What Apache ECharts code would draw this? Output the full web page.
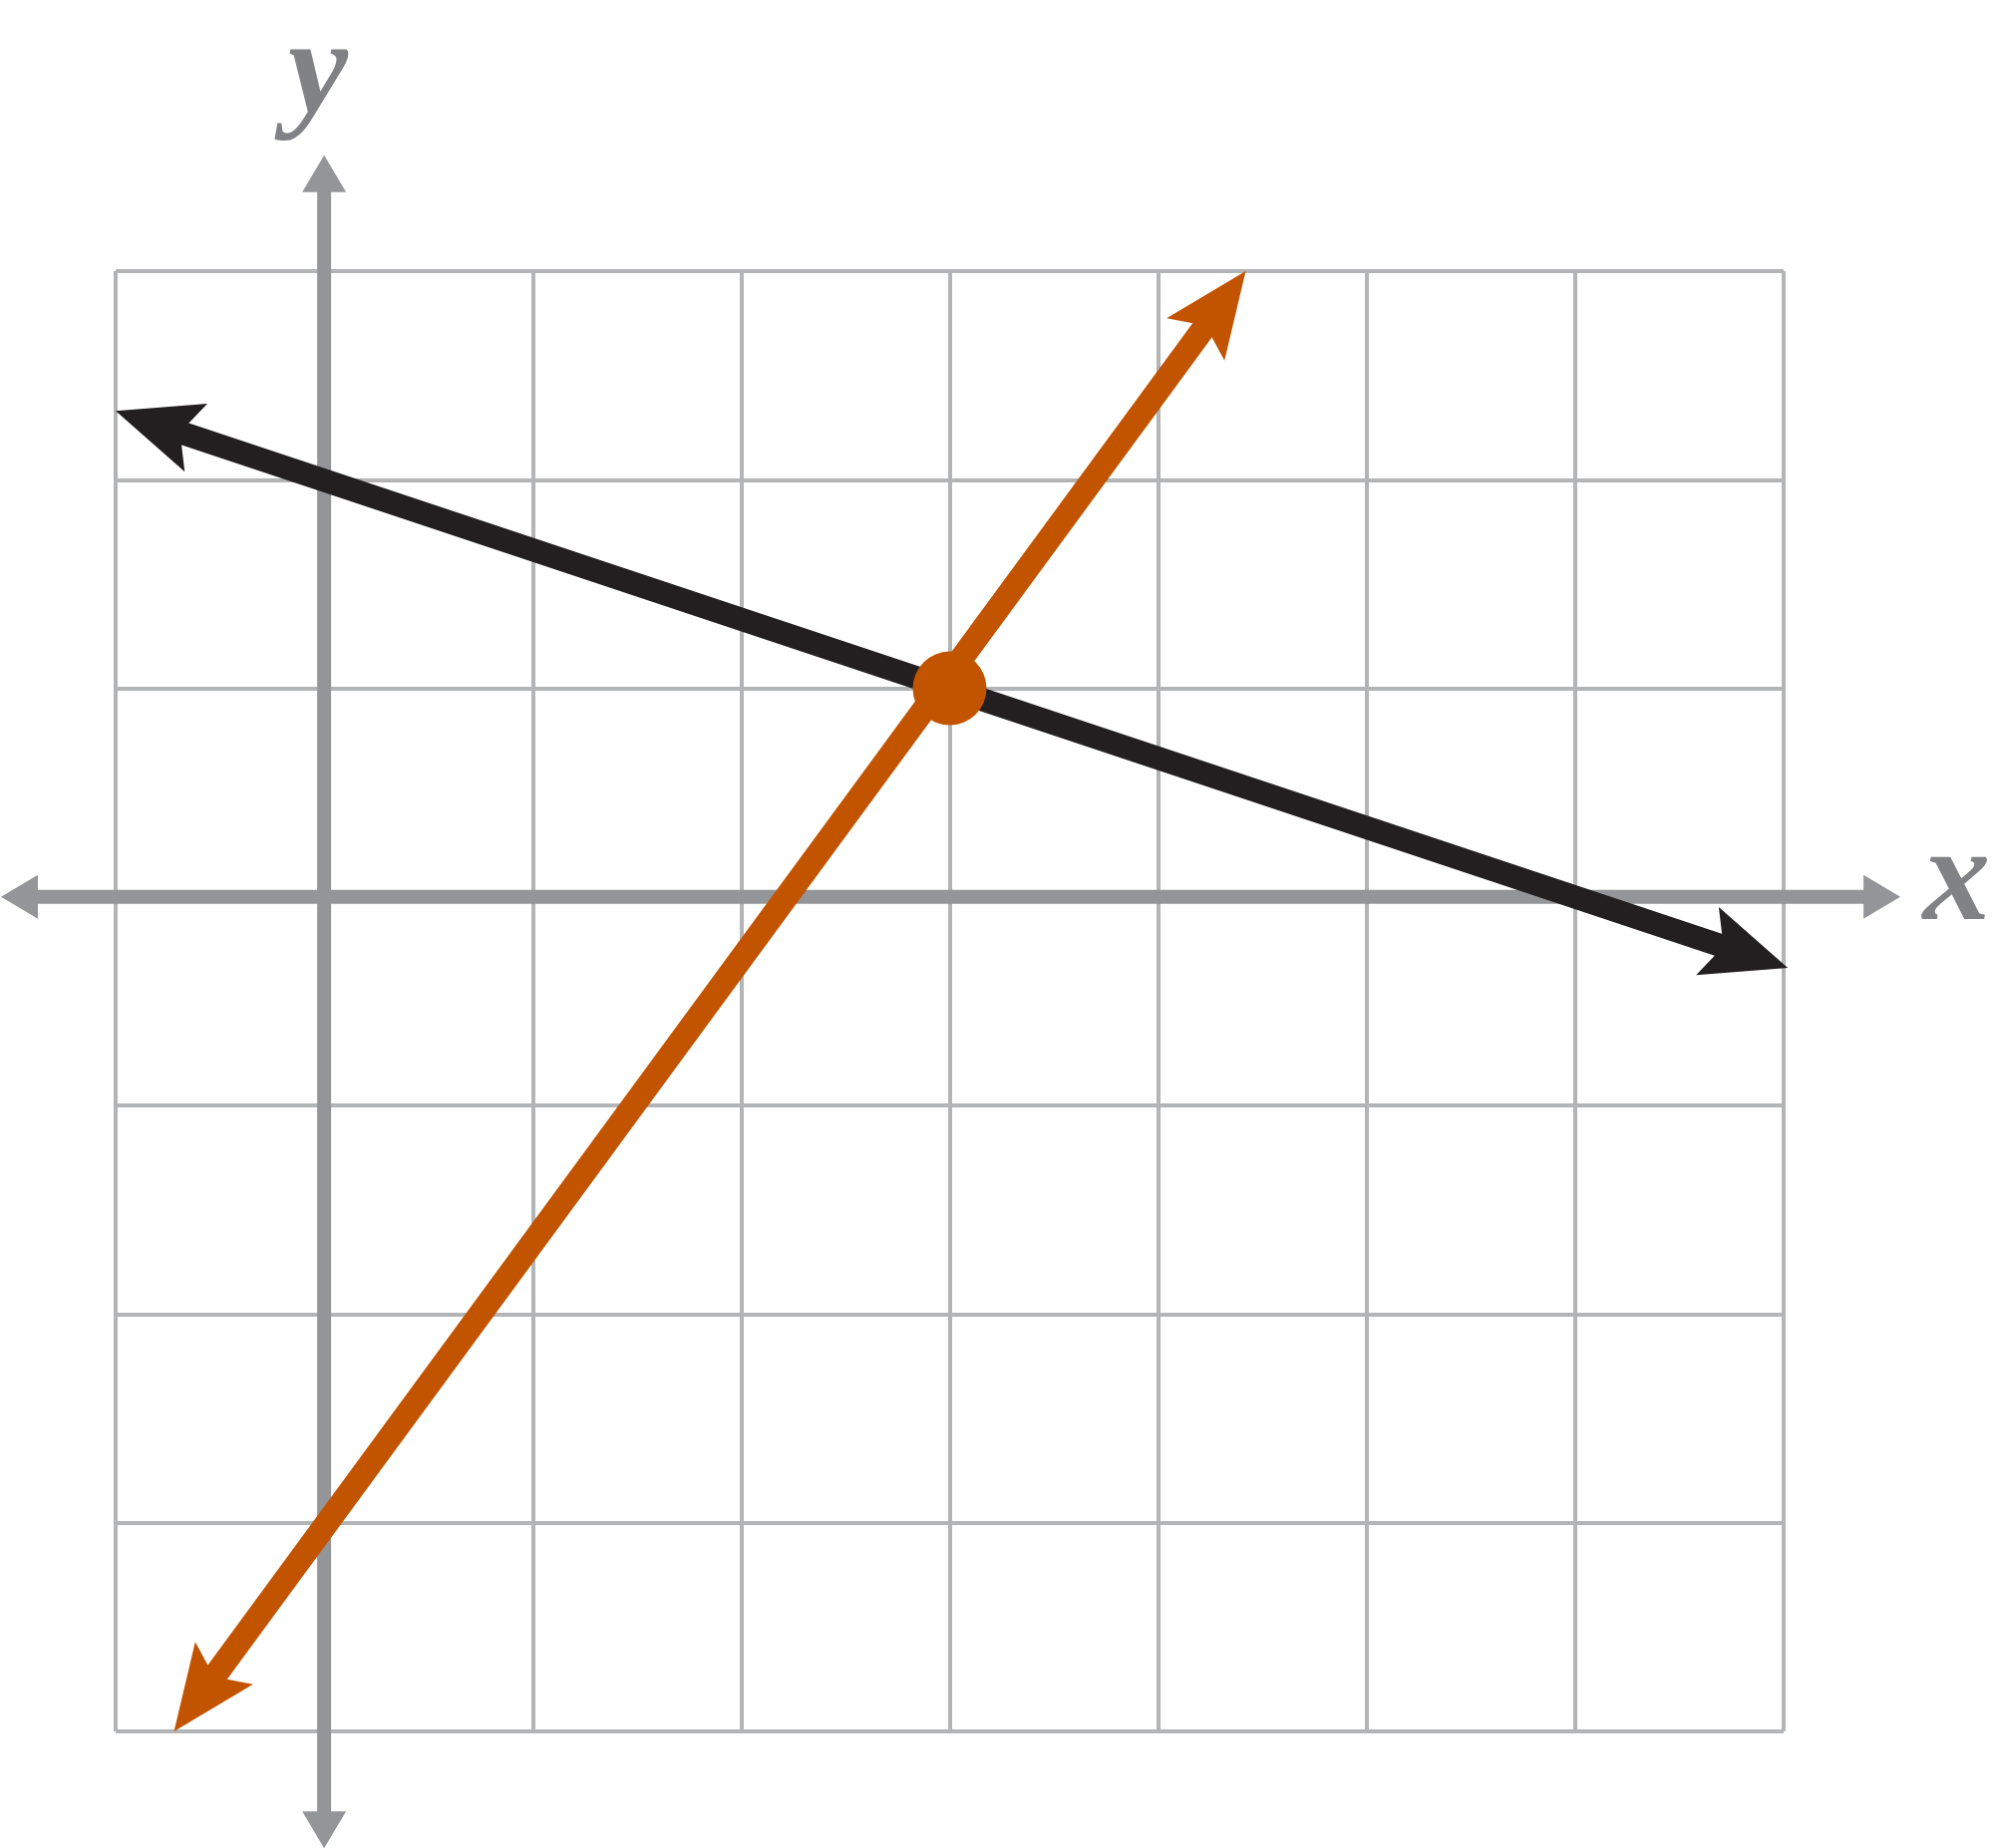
<!DOCTYPE html>
<html><head><meta charset="utf-8">
<script src="https://cdn.jsdelivr.net/npm/echarts@6/dist/echarts.min.js"></script>
<style>html,body{margin:0;padding:0;background:#fff}#c{width:1999px;height:1854px}</style>
</head><body><div id="c"></div>
<script>
// ---- data (graph units) ----
const xRange = [-1, 7];
const yRange = [-4, 3];
const xAxisArrow = [-1.55, 0, 7.56, 0];     // x1, y1, x2, y2
const yAxisArrow = [0, -4.56, 0, 3.555];
const blackLine = [-1, 2.33, 7.02, -0.34];
const orangeLine = [-0.72, -4, 4.42, 3];
const intersection = [3, 1];
const axisLabels = ['x', 'y'];
const axisLabelAnchors = [[7.83, 0.06], [-0.03, 3.93]];

const GRAY_GRID = '#B3B4B6', GRAY_AXIS = '#939598', GRAY_TEXT = '#808285';
const BLACK = '#231F20', ORANGE = '#C25400';

function arrowRenderer(o) {
  return function (params, api) {
    const a = api.coord([api.value(0), api.value(1)]);
    const b = api.coord([api.value(2), api.value(3)]);
    const dx = b[0] - a[0], dy = b[1] - a[1], len = Math.hypot(dx, dy);
    const ux = dx / len, uy = dy / len;
    function head(t, sx, sy) {
      const nx = -sy, ny = sx;
      return [
        [t[0], t[1]],
        [t[0] - o.len * sx + o.half * nx, t[1] - o.len * sy + o.half * ny],
        [t[0] - o.notch * sx, t[1] - o.notch * sy],
        [t[0] - o.len * sx - o.half * nx, t[1] - o.len * sy - o.half * ny]
      ];
    }
    const inset = o.notch - 3;
    return {
      type: 'group',
      children: [
        { type: 'line', shape: { x1: a[0] + ux * inset, y1: a[1] + uy * inset, x2: b[0] - ux * inset, y2: b[1] - uy * inset },
          style: { stroke: o.color, lineWidth: o.width, lineCap: 'butt' } },
        { type: 'polygon', shape: { points: head(a, -ux, -uy) }, style: { fill: o.color } },
        { type: 'polygon', shape: { points: head(b, ux, uy) }, style: { fill: o.color } }
      ]
    };
  };
}

const chart = echarts.init(document.getElementById('c'), null, { renderer: 'canvas' });
const option = {
  backgroundColor: '#ffffff',
  animation: false,
  grid: { left: 116, right: 210, top: 272, bottom: 117, containLabel: false },
  xAxis: {
    type: 'value', min: xRange[0], max: xRange[1], interval: 1,
    axisLine: { show: false }, axisTick: { show: false }, axisLabel: { show: false },
    splitLine: { show: true, lineStyle: { color: GRAY_GRID, width: 4 } }
  },
  yAxis: {
    type: 'value', min: yRange[0], max: yRange[1], interval: 1,
    axisLine: { show: false }, axisTick: { show: false }, axisLabel: { show: false },
    splitLine: { show: true, lineStyle: { color: GRAY_GRID, width: 4 } }
  },
  series: [
    { type: 'custom', clip: false, silent: true,
      renderItem: arrowRenderer({ color: GRAY_AXIS, width: 14, len: 37, half: 22, notch: 37 }),
      data: [xAxisArrow, yAxisArrow] },
    { type: 'custom', clip: false, silent: true,
      renderItem: arrowRenderer({ color: BLACK, width: 23, len: 85, half: 36, notch: 68 }),
      data: [blackLine] },
    { type: 'custom', clip: false, silent: true,
      renderItem: arrowRenderer({ color: ORANGE, width: 24, len: 85, half: 36, notch: 68 }),
      data: [orangeLine] },
    { type: 'scatter', symbol: 'circle', symbolSize: 74, silent: true,
      itemStyle: { color: ORANGE, opacity: 1 }, data: [intersection] }
  ]
};
chart.setOption(option);

const graphics = axisLabels.map(function (t, i) {
  const p = chart.convertToPixel({ gridIndex: 0 }, axisLabelAnchors[i]);
  return {
    type: 'text', x: p[0], y: p[1], silent: true,
    style: { text: t, fontFamily: '"Liberation Serif", "DejaVu Serif", serif', fontStyle: 'italic', fontWeight: 'bold',
      fontSize: 135, fill: GRAY_TEXT, align: 'center', verticalAlign: 'middle' }
  };
});
chart.setOption({ graphic: graphics });
</script>
</body></html>
